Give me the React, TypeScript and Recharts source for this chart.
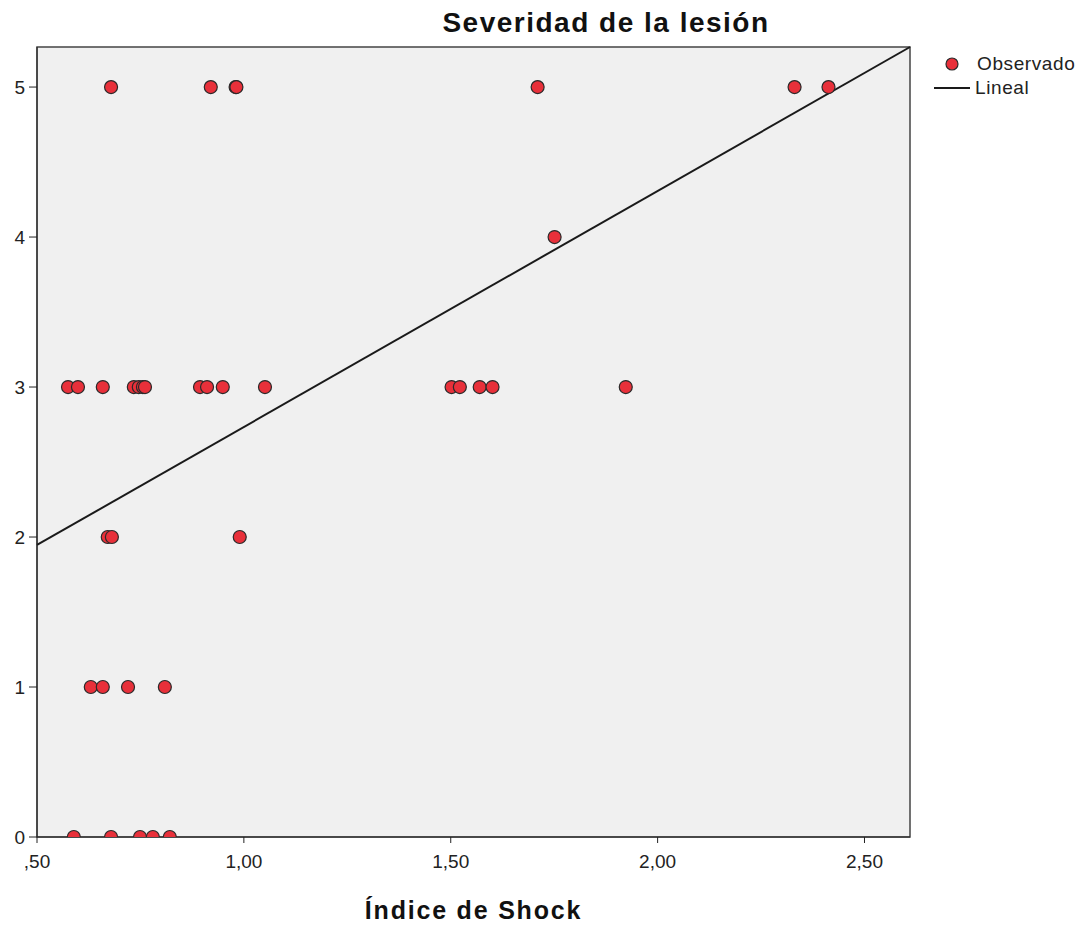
import React from "react";
import {
  ScatterChart,
  Scatter,
  XAxis,
  YAxis,
  ReferenceArea,
  ReferenceLine,
} from "recharts";

// índice de shock (x) and severidad (y)
const shockIndex = [
  0.679, 0.92, 0.98, 0.982, 1.71, 2.331, 2.413,
  1.751,
  0.575, 0.599, 0.659, 0.734, 0.746, 0.756, 0.761, 0.894, 0.911, 0.949, 1.051,
  1.502, 1.522, 1.57, 1.601, 1.923,
  0.671, 0.681, 0.99,
  0.63, 0.659, 0.72, 0.809,
  0.589, 0.679, 0.749, 0.78, 0.821,
];
const severity = [
  5, 5, 5, 5, 5, 5, 5,
  4,
  3, 3, 3, 3, 3, 3, 3, 3, 3, 3, 3,
  3, 3, 3, 3, 3,
  2, 2, 2,
  1, 1, 1, 1,
  0, 0, 0, 0, 0,
];

// linear fit endpoints, read at the plot edges
const fitX = [0.5, 2.61];
const fitY = [1.947, 5.267];

const xTicks = [0.5, 1, 1.5, 2, 2.5];
const yTicks = [0, 1, 2, 3, 4, 5];

const X_DOMAIN: [number, number] = [0.5, 2.61];
const Y_DOMAIN: [number, number] = [0, 5.267];

const DOT_FILL = "#E8303A";
const DOT_STROKE = "#2a2a2a";
const FONT = "'Liberation Sans', Arial, sans-serif";

const points = shockIndex.map((x, i) => ({ x, y: severity[i] }));

const fmtX = (v: number) => {
  const s = v.toFixed(2).replace(".", ",");
  return s.startsWith("0") ? s.slice(1) : s;
};

const Dot = (props: any) => {
  const { cx, cy } = props;
  if (cx == null || cy == null) return null;
  return <circle cx={cx} cy={cy} r={6.5} fill={DOT_FILL} stroke={DOT_STROKE} strokeWidth={1.2} />;
};

export default function App() {
  return (
    <div
      style={{
        position: "absolute",
        left: 0,
        top: 0,
        width: 1087,
        height: 927,
        background: "#fff",
        fontFamily: FONT,
      }}
    >
      <div
        style={{
          position: "absolute",
          left: 406,
          width: 400,
          top: 7,
          textAlign: "center",
          fontSize: 28,
          fontWeight: "bold",
          color: "#111",
          letterSpacing: 1.5,
        }}
      >
        Severidad de la lesión
      </div>

      <ScatterChart
        width={1087}
        height={927}
        margin={{ top: 47, right: 177, bottom: 0, left: 0 }}
      >
        <XAxis
          type="number"
          dataKey="x"
          domain={X_DOMAIN}
          ticks={xTicks}
          tickFormatter={fmtX}
          allowDataOverflow
          height={90}
          stroke="#222"
          tickSize={6}
          tickMargin={12}
          tick={{ fill: "#222", fontSize: 19, fontFamily: FONT }}
          label={{
            value: "Índice de Shock",
            position: "insideBottom",
            offset: 8,
            fill: "#111",
            fontSize: 25,
            fontWeight: "bold",
            fontFamily: FONT,
            letterSpacing: 1.8,
          }}
        />
        <YAxis
          type="number"
          dataKey="y"
          domain={Y_DOMAIN}
          ticks={yTicks}
          allowDataOverflow
          width={37}
          stroke="#222"
          tickSize={8}
          tickMargin={4}
          tick={{ fill: "#222", fontSize: 19, fontFamily: FONT }}
        />
        <ReferenceArea
          x1={X_DOMAIN[0]}
          x2={X_DOMAIN[1]}
          y1={Y_DOMAIN[0]}
          y2={Y_DOMAIN[1]}
          fill="#F0F0F0"
          fillOpacity={1}
          stroke="#444"
          strokeWidth={1.5}
        />
        <ReferenceLine
          segment={[
            { x: fitX[0], y: fitY[0] },
            { x: fitX[1], y: fitY[1] },
          ]}
          stroke="#1a1a1a"
          strokeWidth={2}
        />
        <Scatter data={points} shape={Dot} isAnimationActive={false} />
      </ScatterChart>

      <div style={{ position: "absolute", left: 930, top: 53, fontSize: 19, color: "#222", letterSpacing: 0.6 }}>
        <div style={{ display: "flex", alignItems: "center", height: 22 }}>
          <svg width={44} height={16}>
            <circle cx={22} cy={8} r={6} fill={DOT_FILL} stroke={DOT_STROKE} strokeWidth={1.2} />
          </svg>
          <span style={{ marginLeft: 3 }}>Observado</span>
        </div>
        <div style={{ display: "flex", alignItems: "center", height: 26 }}>
          <svg width={44} height={16}>
            <line x1={4} y1={8} x2={40} y2={8} stroke="#1a1a1a" strokeWidth={2} />
          </svg>
          <span style={{ marginLeft: 1 }}>Lineal</span>
        </div>
      </div>
    </div>
  );
}
